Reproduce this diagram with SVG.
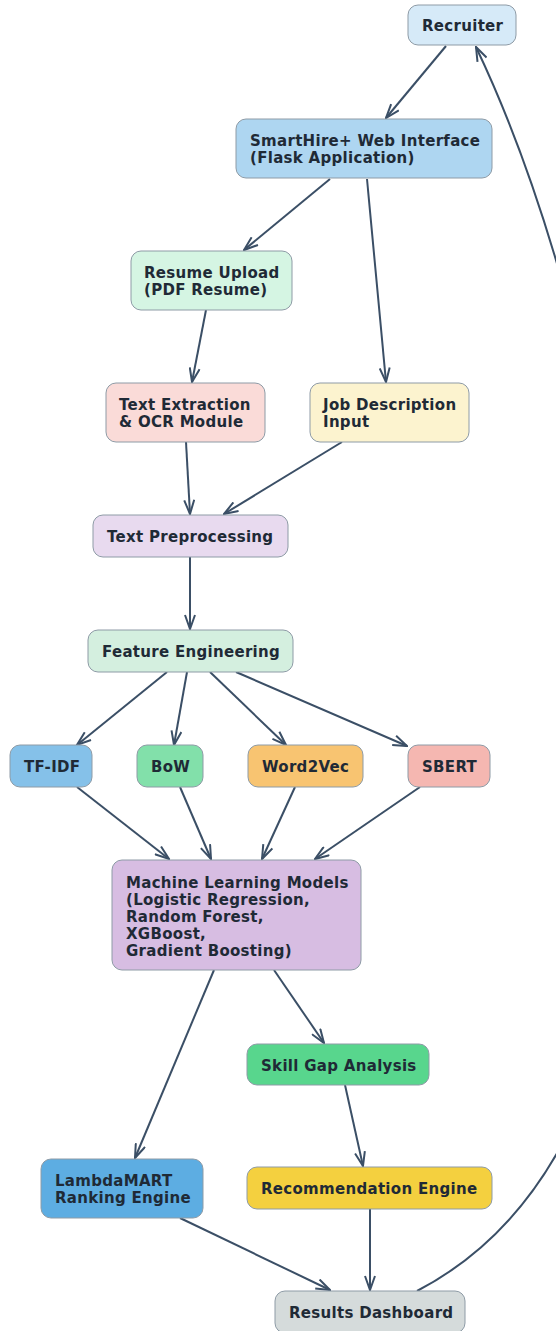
<svg xmlns="http://www.w3.org/2000/svg" width="556" height="1331" viewBox="0 0 556 1331">
<style>
.n{stroke:#8e9ba6;stroke-width:1}
.t{font-family:"DejaVu Sans",sans-serif;font-weight:bold;font-size:15px;letter-spacing:0.3px;fill:#1f2a36}
.e{fill:none;stroke:#3b4f66;stroke-width:2}
</style>
<defs>
<marker id="a" viewBox="0 0 16 12" refX="15" refY="6" markerWidth="16" markerHeight="12" markerUnits="userSpaceOnUse" orient="auto">
<path d="M1,1 L15,6 L1,11" fill="none" stroke="#3b4f66" stroke-width="2" stroke-linejoin="miter"/>
</marker>
</defs>
<rect width="556" height="1331" fill="#ffffff"/>
<g id="edges">
<path class="e" marker-end="url(#a)" d="M446,46 L386,118"/>
<path class="e" marker-end="url(#a)" d="M330,179 L244,250"/>
<path class="e" marker-end="url(#a)" d="M367,179 L386,382"/>
<path class="e" marker-end="url(#a)" d="M206,310 L192,382"/>
<path class="e" marker-end="url(#a)" d="M186,442 L190,514"/>
<path class="e" marker-end="url(#a)" d="M342,442 L224,514"/>
<path class="e" marker-end="url(#a)" d="M190,557 L190,629"/>
<path class="e" marker-end="url(#a)" d="M167,672 L77,745"/>
<path class="e" marker-end="url(#a)" d="M187,672 L174,745"/>
<path class="e" marker-end="url(#a)" d="M210,672 L286,745"/>
<path class="e" marker-end="url(#a)" d="M236,672 L407,746"/>
<path class="e" marker-end="url(#a)" d="M77,787 L169,859"/>
<path class="e" marker-end="url(#a)" d="M180,787 L211,859"/>
<path class="e" marker-end="url(#a)" d="M295,787 L262,859"/>
<path class="e" marker-end="url(#a)" d="M420,787 L315,859"/>
<path class="e" marker-end="url(#a)" d="M214,970 L135,1158"/>
<path class="e" marker-end="url(#a)" d="M274,970 L324,1043"/>
<path class="e" marker-end="url(#a)" d="M345,1085 L363,1166"/>
<path class="e" marker-end="url(#a)" d="M370,1209 L370,1290"/>
<path class="e" marker-end="url(#a)" d="M180,1218 L330,1290"/>
<path class="e" marker-end="url(#a)" d="M417,1291 C772,1106 626,362 476,47"/>
</g>
<g id="recruiter"><rect class="n" x="408" y="5" width="108" height="40" rx="10" fill="#d6eaf8"/><text class="t" x="422" y="31">Recruiter</text></g>
<g id="web"><rect class="n" x="236" y="119" width="256" height="59" rx="10" fill="#aed6f1"/><text class="t" x="250" y="146">SmartHire+ Web Interface</text><text class="t" x="250" y="163">(Flask Application)</text></g>
<g id="upload"><rect class="n" x="131" y="251" width="161" height="59" rx="10" fill="#d5f5e3"/><text class="t" x="144" y="278">Resume Upload</text><text class="t" x="144" y="295">(PDF Resume)</text></g>
<g id="ocr"><rect class="n" x="106" y="383" width="159" height="59" rx="10" fill="#fadbd8"/><text class="t" x="119" y="410">Text Extraction</text><text class="t" x="119" y="427">&amp; OCR Module</text></g>
<g id="jd"><rect class="n" x="310" y="383" width="159" height="59" rx="10" fill="#fcf3cf"/><text class="t" x="323" y="410">Job Description</text><text class="t" x="323" y="427">Input</text></g>
<g id="prep"><rect class="n" x="93" y="515" width="195" height="42" rx="10" fill="#e8daef"/><text class="t" x="107" y="542">Text Preprocessing</text></g>
<g id="fe"><rect class="n" x="88" y="630" width="205" height="42" rx="10" fill="#d4efdf"/><text class="t" x="102" y="657">Feature Engineering</text></g>
<g id="tfidf"><rect class="n" x="10" y="745" width="82" height="42" rx="10" fill="#85c1e9"/><text class="t" x="24" y="772">TF-IDF</text></g>
<g id="bow"><rect class="n" x="137" y="745" width="66" height="42" rx="10" fill="#82e0aa"/><text class="t" x="151" y="772">BoW</text></g>
<g id="w2v"><rect class="n" x="248" y="745" width="115" height="42" rx="10" fill="#f8c471"/><text class="t" x="262" y="772">Word2Vec</text></g>
<g id="sbert"><rect class="n" x="408" y="745" width="82" height="42" rx="10" fill="#f5b7b1"/><text class="t" x="422" y="772">SBERT</text></g>
<g id="ml"><rect class="n" x="112" y="860" width="249" height="110" rx="10" fill="#d7bde2"/><text class="t" x="126" y="888">Machine Learning Models</text><text class="t" x="126" y="905">(Logistic Regression,</text><text class="t" x="126" y="922">Random Forest,</text><text class="t" x="126" y="939">XGBoost,</text><text class="t" x="126" y="956">Gradient Boosting)</text></g>
<g id="skill"><rect class="n" x="247" y="1044" width="182" height="41" rx="10" fill="#58d68d"/><text class="t" x="261" y="1071">Skill Gap Analysis</text></g>
<g id="lambda"><rect class="n" x="41" y="1159" width="162" height="59" rx="10" fill="#5dade2"/><text class="t" x="55" y="1186">LambdaMART</text><text class="t" x="55" y="1203">Ranking Engine</text></g>
<g id="rec"><rect class="n" x="247" y="1167" width="245" height="42" rx="10" fill="#f4d03f"/><text class="t" x="261" y="1194">Recommendation Engine</text></g>
<g id="results"><rect class="n" x="275" y="1291" width="190" height="42" rx="10" fill="#d5dbdb"/><text class="t" x="289" y="1318">Results Dashboard</text></g>
</svg>
